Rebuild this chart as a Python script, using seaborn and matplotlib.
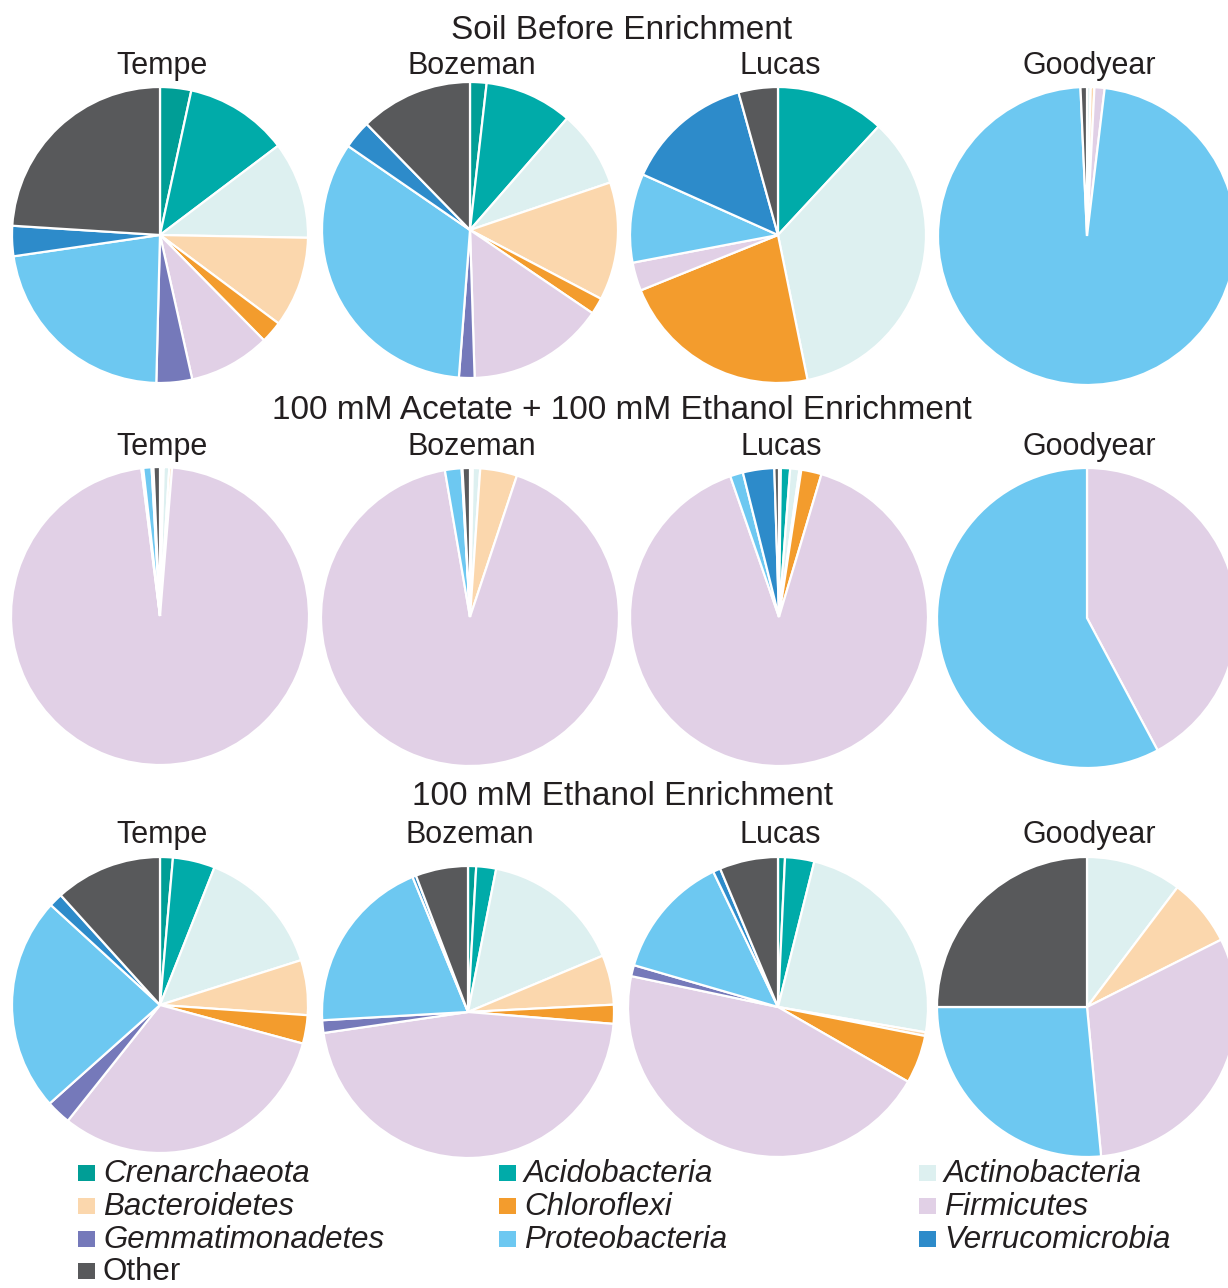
import matplotlib
matplotlib.use("Agg")
import matplotlib.pyplot as plt
from matplotlib.patches import Rectangle
import seaborn as sns

sns.set_theme(style="white")
plt.rcParams["font.family"] = ["Liberation Sans", "DejaVu Sans"]

# Phyla in plotting order (clockwise from 12 o'clock)
phyla = ["Crenarchaeota", "Acidobacteria", "Actinobacteria", "Bacteroidetes",
         "Chloroflexi", "Firmicutes", "Gemmatimonadetes", "Proteobacteria",
         "Verrucomicrobia", "Other"]
phylum_colors = ["#009e96", "#00aba9", "#ddf0f0", "#fbd7ad", "#f39c2d",
                 "#e1d0e6", "#7579ba", "#6dc8f1", "#2d8bca", "#58595b"]

sites = ["Tempe", "Bozeman", "Lucas", "Goodyear"]
conditions = ["Soil Before Enrichment",
              "100 mM Acetate + 100 mM Ethanol Enrichment",
              "100 mM Ethanol Enrichment"]

# Relative abundance (%) per phylum, one list per site
soil_tempe    = [3.4, 11.3, 10.6, 9.9, 2.4, 8.9, 3.9, 22.3, 3.3, 24.0]
soil_bozeman  = [1.8, 9.6, 8.4, 12.9, 1.8, 15.0, 1.7, 33.4, 3.1, 12.3]
soil_lucas    = [0.0, 11.9, 34.9, 0.0, 22.1, 3.1, 0.0, 9.7, 14.0, 4.3]
soil_goodyear = [0.0, 0.0, 0.4, 0.4, 0.0, 1.1, 0.0, 97.4, 0.0, 0.7]

acet_tempe    = [0.2, 0.2, 0.6, 0.3, 0.0, 96.7, 0.2, 0.9, 0.2, 0.7]
acet_bozeman  = [0.1, 0.2, 0.8, 4.0, 0.0, 92.2, 0.0, 1.8, 0.1, 0.8]
acet_lucas    = [0.2, 1.0, 1.0, 0.2, 2.2, 90.1, 0.0, 1.4, 3.4, 0.5]
acet_goodyear = [0.0, 0.0, 0.0, 0.0, 0.0, 42.2, 0.0, 57.8, 0.0, 0.0]

eth_tempe     = [1.4, 4.6, 14.1, 6.0, 3.1, 31.5, 2.7, 23.4, 1.5, 11.7]
eth_bozeman   = [0.9, 2.2, 15.6, 5.5, 2.1, 46.4, 1.4, 19.7, 0.4, 5.8]
eth_lucas     = [0.75, 3.15, 23.8, 0.4, 5.2, 45.0, 1.2, 13.4, 0.8, 6.3]
eth_goodyear  = [0.0, 0.0, 10.3, 7.3, 0.0, 30.9, 0.0, 26.5, 0.0, 25.0]

table = [[soil_tempe, soil_bozeman, soil_lucas, soil_goodyear],
         [acet_tempe, acet_bozeman, acet_lucas, acet_goodyear],
         [eth_tempe, eth_bozeman, eth_lucas, eth_goodyear]]

W, H = 1228, 1288
fig = plt.figure(figsize=(W / 100, H / 100), dpi=100)
TXT = "#231f20"


def fx(x):
    return x / W


def fy(y):
    return 1 - y / H


palette = sns.color_palette(phylum_colors)

# pie centres and radii in pixels (x, y from top, r)
layout = [[(160, 235, 148), (470, 230, 148), (778, 235, 148), (1087, 236, 149)],
          [(160, 616, 149), (470, 617, 149), (779, 617, 149), (1087, 618, 150)],
          [(160, 1005, 148), (468, 1012, 146), (778, 1007, 150), (1087, 1007, 150)]]
title_base = [39, 419, 805]
site_base = [74, 455, 843]

for i, row in enumerate(table):
    fig.text(fx(622), fy(title_base[i]), conditions[i], ha="center", va="baseline",
             fontsize=24, color=TXT)
    for j, vals in enumerate(row):
        cx, cy, r = layout[i][j]
        ax = fig.add_axes([fx(cx - r), fy(cy + r), 2 * r / W, 2 * r / H])
        keep = [k for k, v in enumerate(vals) if v > 0]
        ax.pie([vals[k] for k in keep], colors=[palette[k] for k in keep],
               startangle=90, counterclock=False, radius=1,
               wedgeprops=dict(edgecolor="white", linewidth=1.6))
        ax.set_xlim(-1, 1)
        ax.set_ylim(-1, 1)
        ax.set_axis_off()
        fig.text(fx(cx + 2), fy(site_base[i]), sites[j], ha="center", va="baseline",
                 fontsize=22, color=TXT)

# Legend: three columns filled row by row
col_x = [78, 499, 919]
row_base = [1182, 1215, 1248, 1280]
for k, name in enumerate(phyla):
    r_i, c_i = divmod(k, 3)
    x0, yb = col_x[c_i], row_base[r_i]
    fig.add_artist(Rectangle((fx(x0), fy(yb - 1)), 17 / W, 16 / H,
                             transform=fig.transFigure, facecolor=palette[k],
                             edgecolor="none"))
    fig.text(fx(x0 + 25), fy(yb), name, ha="left", va="baseline", fontsize=22.5,
             style="normal" if name == "Other" else "italic", color=TXT)

fig.savefig("out.png", dpi=100)
